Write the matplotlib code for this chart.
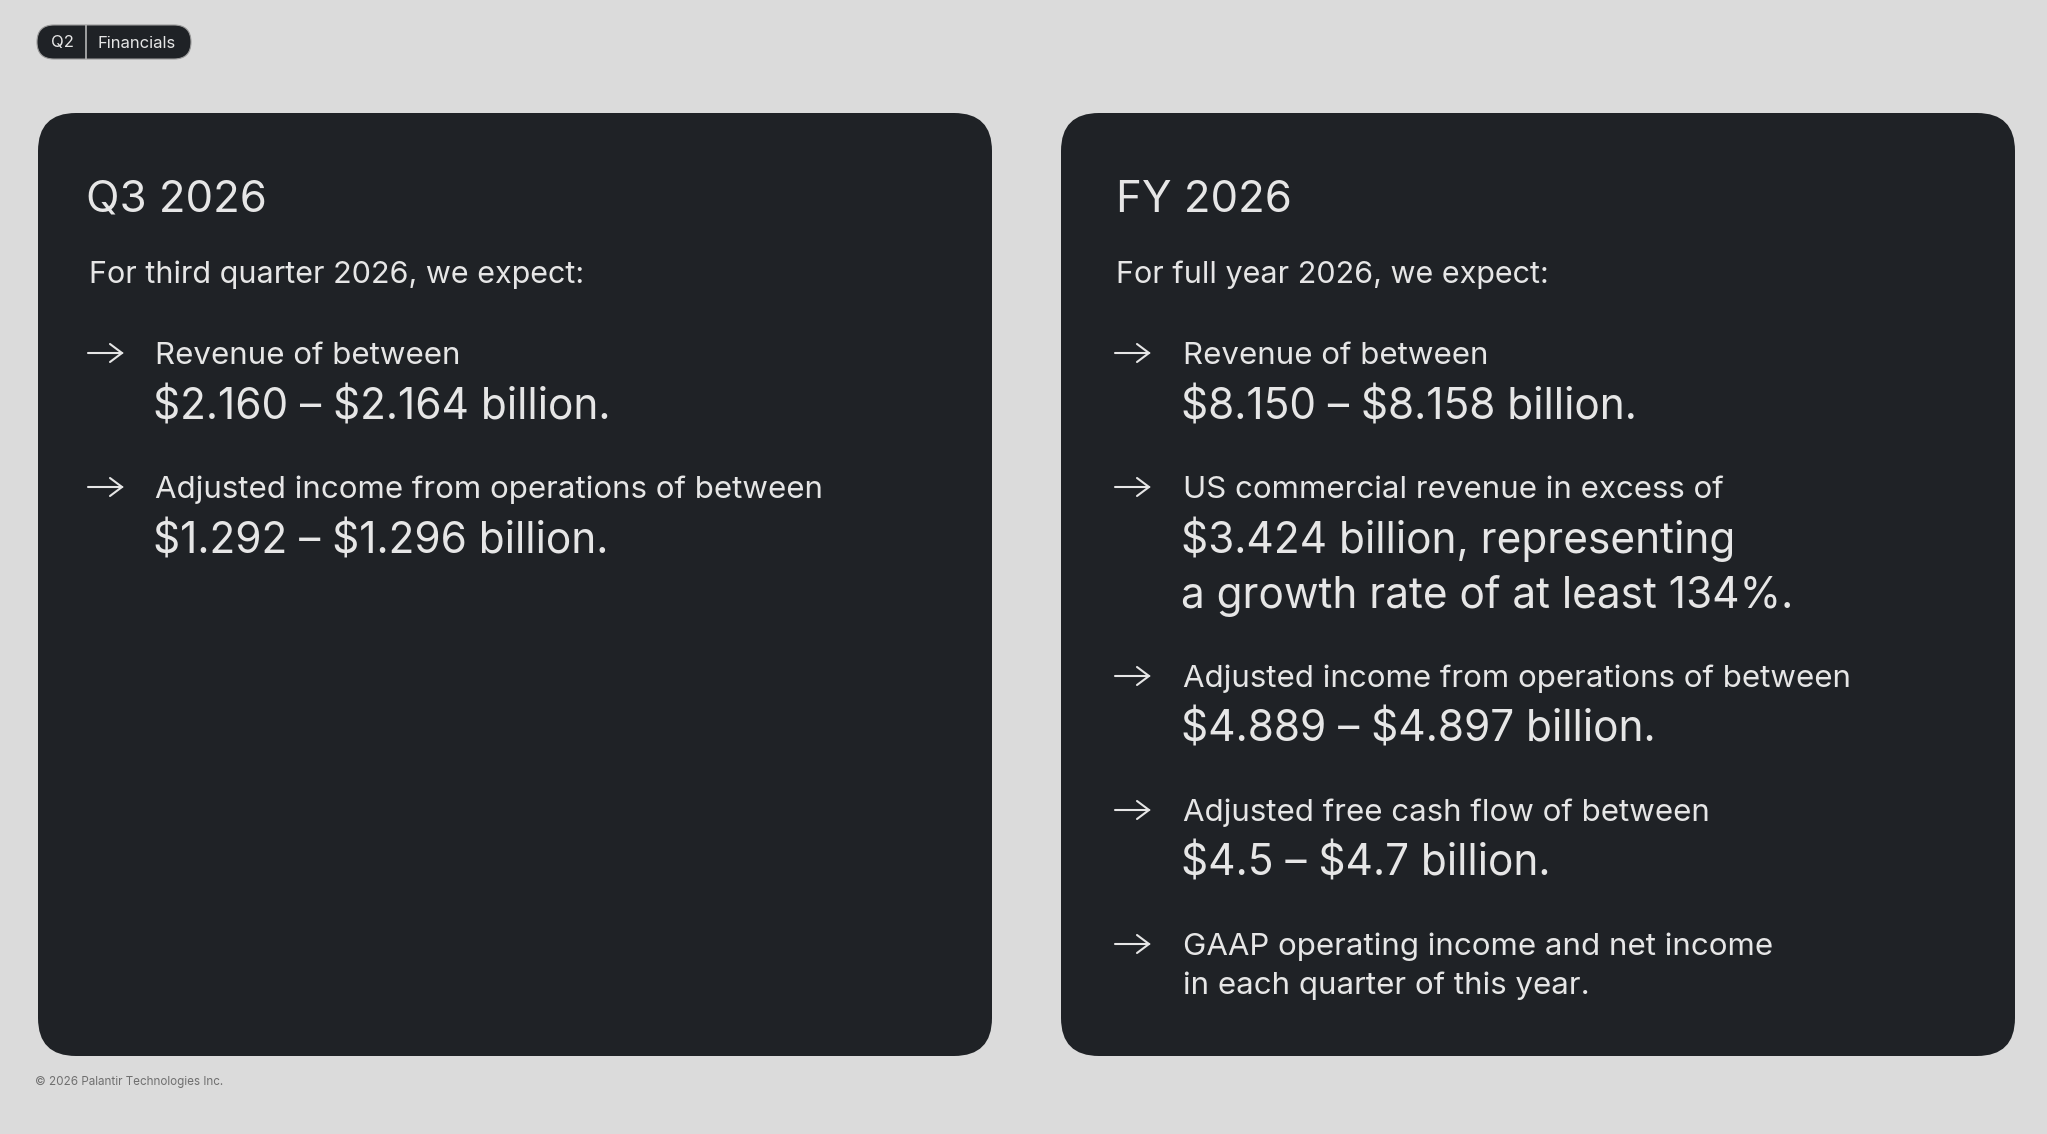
import matplotlib
matplotlib.use("Agg")
import matplotlib.pyplot as plt
from matplotlib.patches import FancyBboxPatch
from matplotlib.lines import Line2D

plt.rcParams['font.family'] = ['Inter', 'DejaVu Sans']

# ---------------- data ----------------
tag_labels = ["Q2", "Financials"]
footer_text = "© 2026 Palantir Technologies Inc."

left_title = "Q3 2026"
left_intro = "For third quarter 2026, we expect:"
left_labels = [
    ["Revenue of between"],
    ["Adjusted income from operations of between"],
]
left_values = [
    ["$2.160 – $2.164 billion."],
    ["$1.292 – $1.296 billion."],
]

right_title = "FY 2026"
right_intro = "For full year 2026, we expect:"
right_labels = [
    ["Revenue of between"],
    ["US commercial revenue in excess of"],
    ["Adjusted income from operations of between"],
    ["Adjusted free cash flow of between"],
    ["GAAP operating income and net income", "in each quarter of this year."],
]
right_values = [
    ["$8.150 – $8.158 billion."],
    ["$3.424 billion, representing", "a growth rate of at least 134%."],
    ["$4.889 – $4.897 billion."],
    ["$4.5 – $4.7 billion."],
    [],
]

# ---------------- style ----------------
BG = "#dbdbdb"
PANEL = "#1f2226"
TXT = "#e6e6e6"
FOOT = "#6f6f6f"

W, H = 2047, 1134
fig = plt.figure(figsize=(W / 100, H / 100), dpi=100)
fig.patch.set_facecolor(BG)
ax = fig.add_axes([0, 0, 1, 1])
ax.set_xlim(0, W)
ax.set_ylim(H, 0)
ax.axis("off")


def txt(x, y, s, size, color=TXT, **kw):
    kw.setdefault("ha", "left")
    kw.setdefault("va", "baseline")
    ax.text(x, y, s, color=color, fontsize=size, parse_math=False, **kw)


# tag pill
pill = FancyBboxPatch((37, 25), 154, 34, boxstyle="round,pad=0,rounding_size=17",
                      facecolor=PANEL, edgecolor="#9a9a9a", linewidth=0.8)
ax.add_patch(pill)
ax.plot([86, 86], [25, 59], color="#b5b5b5", linewidth=1.2)
txt(62, 43, tag_labels[0], 12, ha="center", va="center")
txt(137, 43, tag_labels[1], 12, ha="center", va="center")

# footer
txt(35, 1082, footer_text, 8.4, color=FOOT, va="center")


def arrow(x0, y):
    L = 34
    ax.add_line(Line2D([x0, x0 + L], [y, y], color=TXT, linewidth=1.5, solid_capstyle="round"))
    ax.add_line(Line2D([x0 + L - 12, x0 + L, x0 + L - 12], [y - 9, y, y + 9], color=TXT,
                       linewidth=1.5, solid_capstyle="round", solid_joinstyle="miter"))


def panel(x0, title, intro, labels, values, title_x, intro_x, arrow_x, text_x):
    box = FancyBboxPatch((x0, 113), 954, 943, boxstyle="round,pad=0,rounding_size=38",
                         facecolor=PANEL, edgecolor="none")
    ax.add_patch(box)
    txt(title_x, 212, title, 31.5)
    txt(intro_x, 283, intro, 22)
    y = 364
    for lab, val in zip(labels, values):
        arrow(arrow_x, y - 11)
        for i, line in enumerate(lab):
            if i > 0:
                y += 39
            txt(text_x, y, line, 22.5)
        for line in val:
            y += 55
            txt(text_x - 2, y, line, 30.5)
        y += 79


panel(38, left_title, left_intro, left_labels, left_values, 86, 89, 88, 155)
panel(1061, right_title, right_intro, right_labels, right_values, 1116, 1116, 1115, 1183)

fig.savefig("out.png", dpi=100, facecolor=BG)
